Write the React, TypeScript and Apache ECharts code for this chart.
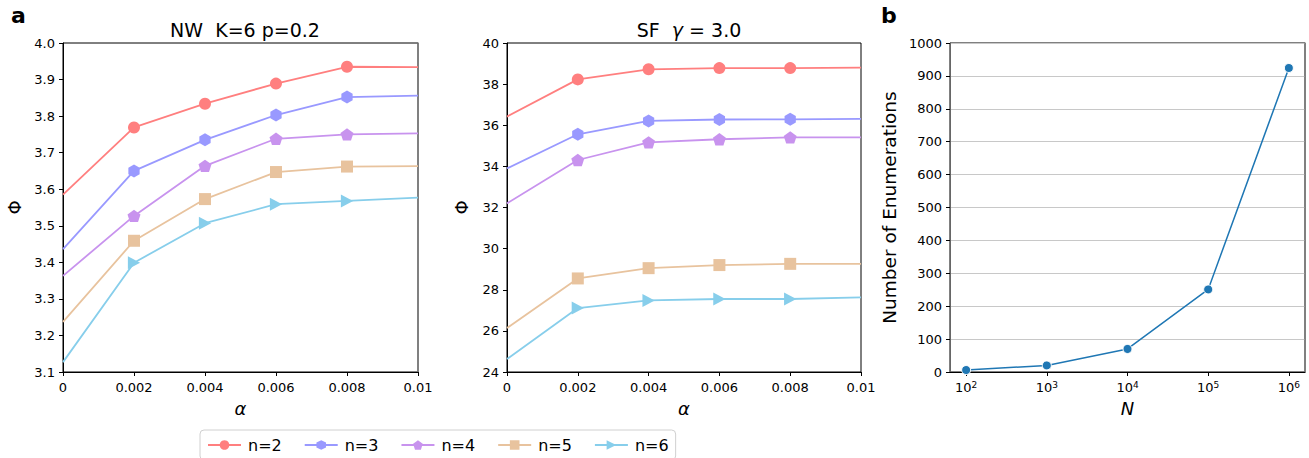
import React, { useEffect, useRef } from "react";
import * as echarts from "echarts";

const alphaValues = [0, 0.002, 0.004, 0.006, 0.008, 0.01];
const seriesNames = ["n=2", "n=3", "n=4", "n=5", "n=6"];
const seriesColors = ["#FF7F7F", "#9999FF", "#C893EE", "#E8C39E", "#87CEEB"];

const nwN2 = [3.585, 3.769, 3.834, 3.889, 3.935, 3.934];
const nwN3 = [3.436, 3.65, 3.735, 3.803, 3.852, 3.856];
const nwN4 = [3.363, 3.527, 3.664, 3.738, 3.75, 3.753];
const nwN5 = [3.237, 3.459, 3.573, 3.647, 3.662, 3.663];
const nwN6 = [3.127, 3.399, 3.507, 3.559, 3.568, 3.577];

const sfN2 = [36.42, 38.23, 38.72, 38.78, 38.78, 38.8];
const sfN3 = [33.9, 35.56, 36.21, 36.28, 36.29, 36.31];
const sfN4 = [32.2, 34.31, 35.17, 35.32, 35.41, 35.41];
const sfN5 = [26.14, 28.55, 29.05, 29.2, 29.26, 29.26];
const sfN6 = [24.63, 27.11, 27.48, 27.55, 27.55, 27.63];

const sizeN = [100, 1000, 10000, 100000, 1000000];
const enumerations = [6, 20, 70, 251, 924];
const logTicks = [2, 3, 4, 5, 6];

const HEX = "path://M0,-1 L0.866,-0.5 L0.866,0.5 L0,1 L-0.866,0.5 L-0.866,-0.5 Z";
const PENT = "path://M0,-1 L0.951,-0.309 L0.588,0.809 L-0.588,0.809 L-0.951,-0.309 Z";
const TRI = "path://M-0.75,-0.9 L0.95,0 L-0.75,0.9 Z";
const symbols = ["circle", HEX, PENT, "rect", TRI];
const symbolSizes = [12, 13, 13, 12, 13];

const FONT = "DejaVu Sans";

export default function App() {
  const ref = useRef<HTMLDivElement>(null);
  useEffect(() => {
    if (!ref.current) return;
    const chart = echarts.init(ref.current, null, { renderer: "svg" });
    const nwAll = [nwN2, nwN3, nwN4, nwN5, nwN6];
    const sfAll = [sfN2, sfN3, sfN4, sfN5, sfN6];

    const mkData = (vals: number[]) =>
      alphaValues.map((a, i) =>
        i === 0 || i === alphaValues.length - 1
          ? { value: [a, vals[i]], symbol: "none" }
          : { value: [a, vals[i]] }
      );

    const lineSeries = (idx: number, grid: number, vals: number[]) => ({
      type: "line",
      name: seriesNames[idx],
      xAxisIndex: grid,
      yAxisIndex: grid,
      data: mkData(vals),
      symbol: symbols[idx],
      symbolSize: symbolSizes[idx],
      symbolKeepAspect: true,
      showAllSymbol: true,
      color: seriesColors[idx],
      lineStyle: { width: 1.8, color: seriesColors[idx] },
      itemStyle: { color: seriesColors[idx] },
      clip: true,
    });

    const tickStyle = { show: true, inside: false, length: 4, lineStyle: { color: "#000", width: 1 } };
    const labelStyle = { color: "#000", fontSize: 13, fontFamily: FONT };
    const alphaFmt = (v: number) => (v === 0 ? "0" : String(parseFloat(v.toFixed(4))));

    const xAlpha = (grid: number) => ({
      type: "value",
      gridIndex: grid,
      min: 0,
      max: 0.01,
      interval: 0.002,
      axisLine: { show: true, lineStyle: { color: "#000", width: 1 } },
      axisTick: tickStyle,
      axisLabel: { ...labelStyle, margin: 9, formatter: alphaFmt },
      splitLine: { show: false },
      name: "α",
      nameLocation: "middle",
      nameGap: 27,
      nameTextStyle: { fontSize: 18, fontStyle: "italic", fontFamily: FONT, color: "#000" },
    });

    const option: any = {
      animation: false,
      textStyle: { fontFamily: FONT },
      title: [
        {
          text: "NW  K=6 p=0.2",
          left: 240,
          top: 15,
          textAlign: "center",
          textStyle: { fontSize: 19, fontWeight: "normal", color: "#000", fontFamily: FONT },
        },
        {
          text: "SF  {i|γ} = 3.0",
          left: 684,
          top: 15,
          textAlign: "center",
          textStyle: {
            fontSize: 19,
            fontWeight: "normal",
            color: "#000",
            fontFamily: FONT,
            rich: { i: { fontSize: 19, fontStyle: "italic", fontFamily: FONT, color: "#000" } },
          },
        },
      ],
      graphic: [
        { type: "text", left: 11, top: 4, style: { text: "a", fontSize: 22, fontWeight: "bold", fontFamily: FONT, fill: "#000" } },
        { type: "text", left: 881, top: 4, style: { text: "b", fontSize: 22, fontWeight: "bold", fontFamily: FONT, fill: "#000" } },
      ],
      legend: {
        data: seriesNames,
        left: 200,
        top: 430,
        orient: "horizontal",
        itemWidth: 33,
        itemHeight: 12,
        itemGap: 22,
        padding: [7, 7, 7, 7],
        borderColor: "#d0d0d0",
        borderWidth: 1,
        borderRadius: 4,
        backgroundColor: "#fff",
        textStyle: { fontSize: 16, color: "#000", fontFamily: FONT, padding: [0, 0, 0, 2] },
      },
      grid: [
        { left: 63, top: 43, width: 355, height: 329, show: true, borderColor: "#000", borderWidth: 1, backgroundColor: "transparent" },
        { left: 507, top: 43, width: 354, height: 329, show: true, borderColor: "#000", borderWidth: 1, backgroundColor: "transparent" },
        { left: 950, top: 43, width: 355, height: 329, show: true, borderColor: "#000", borderWidth: 1, backgroundColor: "transparent" },
      ],
      xAxis: [
        xAlpha(0),
        xAlpha(1),
        {
          type: "value",
          gridIndex: 2,
          min: 1.8,
          max: 6.2,
          axisLine: { show: true, lineStyle: { color: "#000", width: 1 } },
          axisTick: { ...tickStyle, customValues: logTicks },
          axisLabel: {
            ...labelStyle,
            margin: 8,
            customValues: logTicks,
            formatter: (v: number) => "10{s|" + Math.round(v) + "}",
            rich: { s: { fontSize: 9, verticalAlign: "top", fontFamily: FONT, color: "#000", padding: [0, 0, 6, 0] } },
          },
          splitLine: { show: false },
          name: "N",
          nameLocation: "middle",
          nameGap: 27,
          nameTextStyle: { fontSize: 18, fontStyle: "italic", fontFamily: FONT, color: "#000" },
        },
      ],
      yAxis: [
        {
          type: "value",
          gridIndex: 0,
          min: 3.1,
          max: 4.0,
          interval: 0.1,
          axisLine: { show: true, lineStyle: { color: "#000", width: 1 } },
          axisTick: tickStyle,
          axisLabel: { ...labelStyle, margin: 8, formatter: (v: number) => v.toFixed(1) },
          splitLine: { show: false },
          name: "Φ",
          nameLocation: "middle",
          nameGap: 40,
          nameTextStyle: { fontSize: 18, fontFamily: FONT, color: "#000" },
        },
        {
          type: "value",
          gridIndex: 1,
          min: 24,
          max: 40,
          interval: 2,
          axisLine: { show: true, lineStyle: { color: "#000", width: 1 } },
          axisTick: tickStyle,
          axisLabel: { ...labelStyle, margin: 8 },
          splitLine: { show: false },
          name: "Φ",
          nameLocation: "middle",
          nameGap: 37,
          nameTextStyle: { fontSize: 18, fontFamily: FONT, color: "#000" },
        },
        {
          type: "value",
          gridIndex: 2,
          min: 0,
          max: 1000,
          interval: 100,
          axisLine: { show: true, lineStyle: { color: "#666", width: 1 } },
          axisTick: tickStyle,
          axisLabel: { ...labelStyle, margin: 8, formatter: (v: number) => String(v) },
          splitLine: { show: true, lineStyle: { color: "#c8c8c8", width: 1 } },
          name: "Number of Enumerations",
          nameLocation: "middle",
          nameGap: 51,
          nameTextStyle: { fontSize: 18.5, fontFamily: FONT, color: "#000" },
        },
        {
          type: "value",
          gridIndex: 0,
          position: "right",
          min: 3.1,
          max: 4.0,
          axisLine: { show: true, lineStyle: { color: "#808080", width: 1.5 } },
          axisTick: { show: false },
          axisLabel: { show: false },
          splitLine: { show: false },
        },
        {
          type: "value",
          gridIndex: 2,
          position: "right",
          min: 0,
          max: 1000,
          axisLine: { show: true, lineStyle: { color: "#808080", width: 1.5 } },
          axisTick: { show: false },
          axisLabel: { show: false },
          splitLine: { show: false },
        },
      ],
      series: [
        ...nwAll.map((v, i) => lineSeries(i, 0, v)),
        ...sfAll.map((v, i) => lineSeries(i, 1, v)),
        {
          type: "line",
          name: "enumerations",
          xAxisIndex: 2,
          yAxisIndex: 2,
          data: sizeN.map((n, i) => [Math.log10(n), enumerations[i]]),
          symbol: "circle",
          symbolSize: 9,
          color: "#1f77b4",
          lineStyle: { width: 1.5, color: "#1f77b4" },
          itemStyle: { color: "#1f77b4", borderColor: "#fff", borderWidth: 1 },
        },
      ],
    };
    chart.setOption(option);
    return () => chart.dispose();
  }, []);
  return (
    <div
      ref={ref}
      style={{ position: "absolute", left: 0, top: 0, width: 1309, height: 458, background: "#fff" }}
    />
  );
}
